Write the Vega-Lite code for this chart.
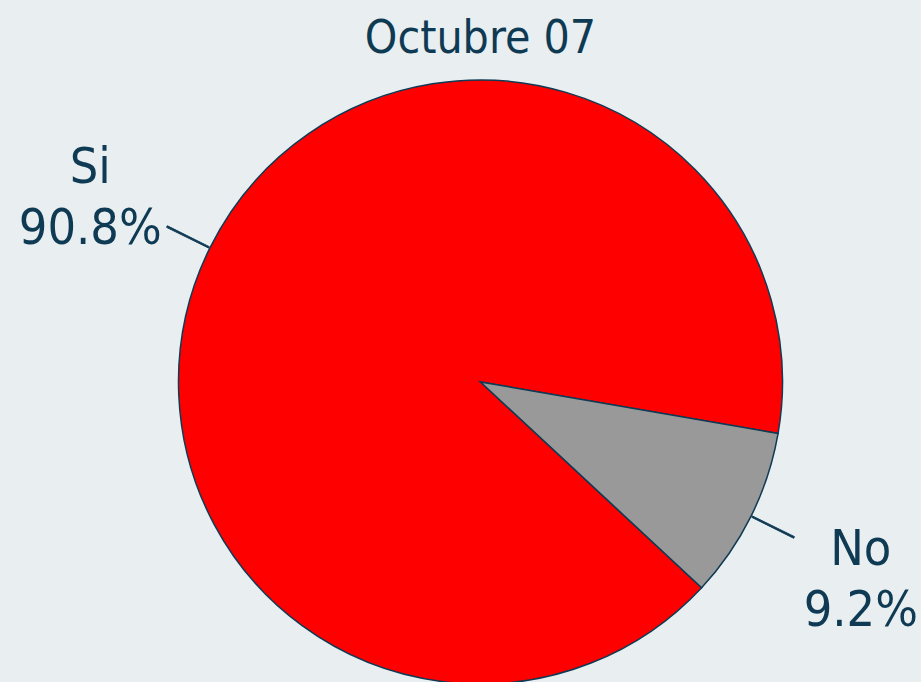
{
  "$schema": "https://vega.github.io/schema/vega-lite/v6.json",
  "width": 881,
  "height": 564,
  "autosize": {"type": "none"},
  "padding": {"top": 100, "left": 40, "right": 0, "bottom": 18},
  "background": "#E9EEF0",
  "title": {
    "text": "Octubre 07",
    "fontSize": 46,
    "font": "DejaVu Sans Condensed, DejaVu Sans",
    "fontWeight": "normal",
    "color": "#0E3A54",
    "anchor": "middle",
    "offset": 14
  },
  "config": {"view": {"stroke": null}},
  "data": {
    "values": [
      {"category": "Si", "share": 0.908},
      {"category": "No", "share": 0.092}
    ]
  },
  "layer": [
    {
      "mark": {"type": "arc", "outerRadius": 302, "stroke": "#0E3A54", "strokeWidth": 1.5},
      "encoding": {
        "theta": {"field": "share", "type": "quantitative", "stack": true,
                  "scale": {"domain": [0, 1], "range": [1.742, 8.0252]}},
        "order": {"field": "category", "sort": "ascending"},
        "color": {"field": "category", "type": "nominal", "legend": null,
                  "scale": {"domain": ["No", "Si"], "range": ["#999999", "#FF0000"]}}
      }
    },
    {
      "transform": [
        {"stack": "share", "groupby": [], "sort": [{"field": "category", "order": "ascending"}], "as": ["s0", "s1"]},
        {"calculate": "(datum.s0 + datum.s1) / 2 - 0.0004", "as": "lo"},
        {"calculate": "(datum.s0 + datum.s1) / 2 + 0.0004", "as": "hi"}
      ],
      "mark": {"type": "arc", "radius": 350, "radius2": 303, "fill": "#0E3A54", "stroke": "#0E3A54", "strokeWidth": 1},
      "encoding": {
        "theta": {"field": "lo", "type": "quantitative", "stack": false,
                  "scale": {"domain": [0, 1], "range": [1.742, 8.0252]}},
        "theta2": {"field": "hi"}
      }
    },
    {
      "mark": {"type": "text", "radius": 430, "fontSize": 50, "font": "DejaVu Sans Condensed, DejaVu Sans",
               "color": "#0E3A54", "align": "center", "baseline": "middle", "lineBreak": "\n", "lineHeight": 61, "dy": -23, "dx": -5},
      "encoding": {
        "theta": {"field": "share", "type": "quantitative", "stack": true,
                  "scale": {"domain": [0, 1], "range": [1.742, 8.0252]}},
        "order": {"field": "category", "sort": "ascending"},
        "detail": {"field": "category", "type": "nominal"},
        "text": {"field": "label", "type": "nominal"}
      },
      "transform": [
        {"calculate": "datum.category + '\\n' + format(datum.share, '.1%')", "as": "label"}
      ]
    }
  ]
}
